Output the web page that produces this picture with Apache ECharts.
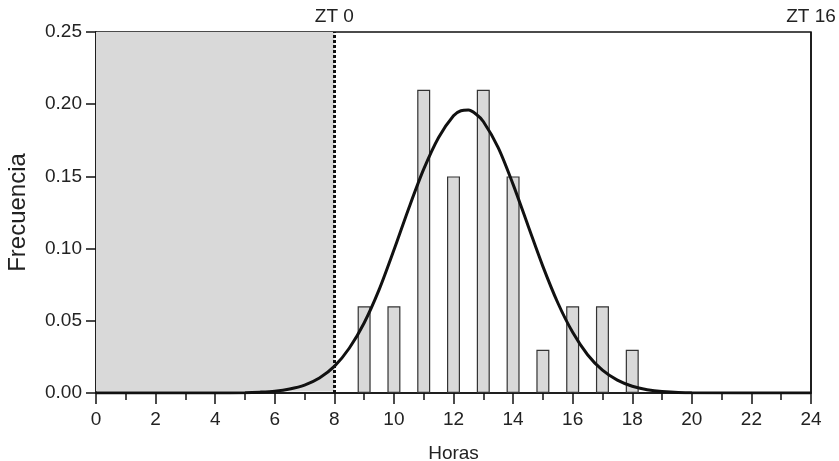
<!DOCTYPE html>
<html>
<head>
<meta charset="utf-8">
<script src="https://cdn.jsdelivr.net/npm/echarts@6/dist/echarts.min.js"></script>
<style>
  html, body { margin: 0; padding: 0; background: #fff; }
  #chart { width: 839px; height: 461px; }
</style>
</head>
<body>
<div id="chart"></div>
<script>
// histogram: hours vs relative frequency
const hours = [9, 10, 11, 12, 13, 14, 15, 16, 17, 18]
const freq = [0.06, 0.06, 0.21, 0.15, 0.21, 0.15, 0.03, 0.06, 0.06, 0.03]

// fitted curve
const curveX = [0, 4, 5, 5.5, 6, 6.5, 7, 7.5, 8, 8.5, 9, 9.5, 10, 10.5, 11, 11.5, 12, 12.25, 12.5,
  12.75, 13, 13.5, 14, 14.5, 15, 15.5, 16, 16.5, 17, 17.5, 18, 18.5, 19, 20, 24]
const curveY = [0, 0, 0.0002, 0.0006, 0.0013, 0.0028, 0.0055, 0.0104, 0.0184, 0.031, 0.0485,
  0.0714, 0.099, 0.128, 0.155, 0.177, 0.192, 0.1955, 0.1959, 0.1932, 0.188, 0.17, 0.1445, 0.116,
  0.0877, 0.0625, 0.042, 0.0265, 0.0158, 0.0089, 0.0047, 0.0023, 0.0011, 0.0002, 0]

// dark phase shading and ZT markers
const darkStart = 0
const darkEnd = 8
const ztMarks = [{ x: 8, label: 'ZT 0' }, { x: 24, label: 'ZT 16' }]

const chart = echarts.init(document.getElementById('chart'))
const font = 'Liberation Sans, Arial, sans-serif'

const option = {
  animation: false,
  grid: {
    left: 96,
    right: 28,
    top: 32,
    bottom: 68,
    outerBoundsMode: 'none',
    show: true,
    borderColor: '#111',
    borderWidth: 1.5,
    backgroundColor: 'transparent'
  },
  xAxis: {
    type: 'value',
    min: 0,
    max: 24,
    interval: 2,
    name: 'Horas',
    nameLocation: 'middle',
    nameGap: 51,
    nameTextStyle: { fontFamily: font, fontSize: 19, color: '#222' },
    axisLine: { show: true, onZero: false, lineStyle: { color: '#111', width: 1.5 } },
    axisTick: { show: true, length: 11, lineStyle: { color: '#111', width: 1.5 } },
    minorTick: { show: true, splitNumber: 2, length: 7, lineStyle: { color: '#111', width: 1.5 } },
    axisLabel: { fontFamily: font, fontSize: 19, color: '#222', margin: 17 },
    splitLine: { show: false }
  },
  yAxis: {
    type: 'value',
    min: 0,
    max: 0.25,
    interval: 0.05,
    name: 'Frecuencia',
    nameLocation: 'middle',
    nameGap: 66,
    nameTextStyle: { fontFamily: font, fontSize: 24, color: '#222' },
    axisLine: { show: true, lineStyle: { color: '#111', width: 1.5 } },
    axisTick: { show: true, length: 10, lineStyle: { color: '#111', width: 1.5 } },
    axisLabel: {
      fontFamily: font, fontSize: 19, color: '#222', margin: 14,
      formatter: v => v.toFixed(2)
    },
    splitLine: { show: false }
  },
  series: [
    {
      type: 'bar',
      data: hours.map((h, i) => [h, freq[i]]),
      barWidth: 13,
      itemStyle: { color: '#d9d9d9', borderColor: '#333', borderWidth: 1.2 },
      markArea: {
        silent: true,
        itemStyle: { color: '#d9d9d9' },
        data: [[{ xAxis: darkStart, yAxis: 0.001 }, { xAxis: darkEnd, yAxis: 0.25 }]]
      },
      markLine: {
        silent: true,
        symbol: 'none',
        data: ztMarks.map((m, i) => ({
          xAxis: m.x,
          lineStyle: i === 0
            ? { color: '#111', type: [3, 2], width: 3 }
            : { color: '#111', type: 'solid', width: 1.5 },
          label: {
            show: true,
            position: 'end',
            formatter: m.label,
            fontFamily: font,
            fontSize: 19,
            color: '#222',
            distance: 6
          }
        }))
      },
      z: 2
    },
    {
      type: 'line',
      data: curveX.map((x, i) => [x, curveY[i]]),
      smooth: 0.3,
      showSymbol: false,
      lineStyle: { color: '#111', width: 3 },
      z: 3
    }
  ]
}

chart.setOption(option)
</script>
</body>
</html>
